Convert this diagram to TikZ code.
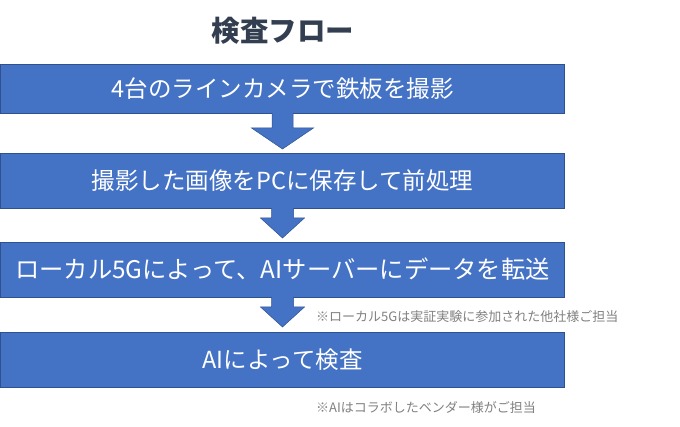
\documentclass[tikz,border=0pt]{standalone}
\usepackage{fontspec}
\setmainfont{Noto Sans CJK JP}
\usetikzlibrary{calc}
\definecolor{boxblue}{HTML}{4472C4}
\definecolor{boxedge}{HTML}{2F528F}
\definecolor{titlecol}{HTML}{333F50}
\definecolor{notegray}{HTML}{808080}
\tikzset{
  flowbox/.style={draw=boxedge, line width=0.8pt, fill=boxblue, text=white,
    minimum width=564pt, inner sep=0pt, outer sep=0pt,
    font=\fontsize{23.5}{26}\selectfont},
  blockarrow/.style={fill=boxblue, draw=boxedge, line width=0.5pt, line join=miter},
  notetext/.style={anchor=west, inner sep=0pt, text=notegray, font=\fontsize{13}{15}\selectfont},
}
\begin{document}
\begin{tikzpicture}[x=1pt,y=-1pt]
\useasboundingbox (0,0) rectangle (680,427);
\node[text=titlecol, font=\fontsize{28.5}{32}\selectfont\bfseries] (title) at (283,31) {検査フロー};
\node[flowbox, minimum height=49pt] (b1) at (282.5,88.5) {4台のラインカメラで鉄板を撮影};
\node[flowbox, minimum height=55pt] (b2) at (282.5,180.5) {撮影した画像をPCに保存して前処理};
\node[flowbox, minimum height=55pt, font=\fontsize{24.3}{27}\selectfont] (b3) at (282.5,269.5) {ローカル5Gによって、AIサーバーにデータを転送};
\node[flowbox, minimum height=55pt] (b4) at (282.5,359.5) {AIによって検査};
% block arrows
\draw[blockarrow] ($(b1.south)+(-10.5,0)$) -- ++(0,15) -- ++(-20.5,0) -- ($(b2.north)+(0,-4)$)
  -- ($(b1.south)+(31,15)$) -- ++(-20.5,0) -- ($(b1.south)+(10.5,0)$);
\draw[blockarrow] ($(b2.south)+(-11,0)$) -- ++(0,10) -- ++(-11,0) -- ($(b3.north)+(0,-4)$)
  -- ($(b2.south)+(22,10)$) -- ++(-11,0) -- ($(b2.south)+(11,0)$);
\draw[blockarrow] ($(b3.south)+(-11,0)$) -- ++(0,10) -- ++(-11,0) -- ($(b4.north)+(0,-5)$)
  -- ($(b3.south)+(22,10)$) -- ++(-11,0) -- ($(b3.south)+(11,0)$);
\node[notetext] (n1) at (316,317) {※ローカル5Gは実証実験に参加された他社様ご担当};
\node[notetext] (n2) at (316,408) {※AIはコラボしたベンダー様がご担当};
\end{tikzpicture}
\end{document}
